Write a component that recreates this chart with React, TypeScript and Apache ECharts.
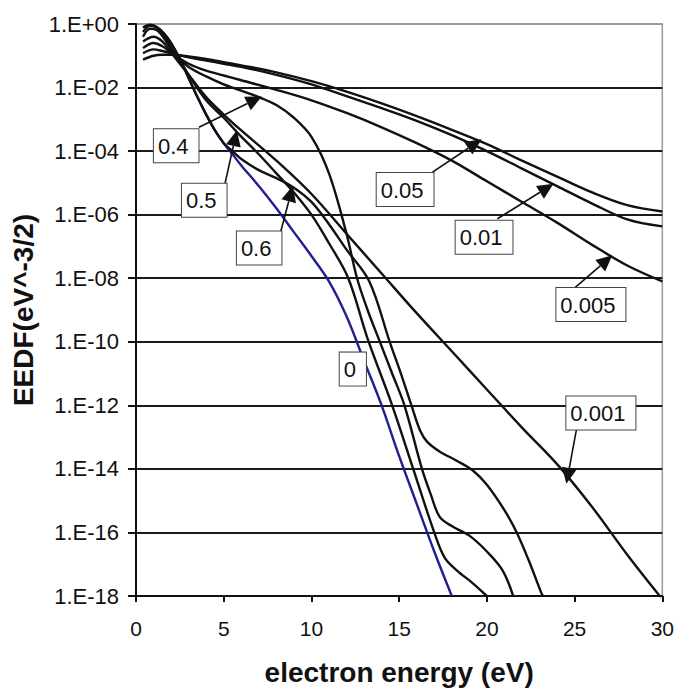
import React, { useEffect, useRef } from "react";
import * as echarts from "echarts";

// electron energy (eV) and log10(EEDF)
const e0 = [0.4, 0.8, 1.2, 1.6, 2, 2.5, 3, 3.5, 4, 4.5, 5, 5.5, 6, 7, 8, 9, 10, 11, 12, 13, 14, 15, 16, 17, 18];
const lg0 = [-0.1, -0.02, -0.1, -0.3, -0.6, -1.1, -1.7, -2.3, -2.85, -3.35, -3.75, -4.1, -4.45, -5.1, -5.8, -6.55, -7.3, -8.1, -9.2, -10.6, -12.0, -13.6, -15.1, -16.6, -18];

const e0001 = [0.4, 1, 1.5, 2, 3, 4, 5, 6, 8, 10, 12, 14, 16, 18, 20, 22, 24, 26, 28, 30];
const lg0001 = [-0.55, -0.4, -0.55, -0.9, -1.6, -2.3, -2.85, -3.35, -4.3, -5.35, -6.6, -7.85, -9.1, -10.3, -11.5, -12.7, -13.85, -15.2, -16.7, -18.1];

const e0005 = [0.4, 1, 1.5, 2, 3, 4, 5, 6, 8, 10, 12, 14, 16, 18, 20, 22, 24, 26, 28, 30];
const lg0005 = [-0.76, -0.6, -0.7, -0.9, -1.25, -1.47, -1.62, -1.77, -2.07, -2.4, -2.8, -3.25, -3.75, -4.3, -4.95, -5.6, -6.25, -6.95, -7.6, -8.1];

const e001 = [0.4, 1, 1.5, 2, 3, 4, 5, 6, 8, 10, 12, 14, 16, 18, 20, 22, 24, 26, 28, 30];
const lg001 = [-0.92, -0.8, -0.85, -0.92, -1.05, -1.15, -1.25, -1.35, -1.6, -1.9, -2.27, -2.65, -3.05, -3.5, -4.0, -4.55, -5.1, -5.65, -6.15, -6.37];

const e005 = [0.4, 1, 1.5, 2, 3, 4, 5, 6, 8, 10, 12, 14, 16, 18, 20, 22, 24, 26, 28, 30];
const lg005 = [-1.12, -1.0, -0.97, -0.97, -1.02, -1.1, -1.2, -1.3, -1.52, -1.8, -2.13, -2.5, -2.9, -3.33, -3.78, -4.3, -4.8, -5.3, -5.7, -5.9];

const e04 = [0.4, 0.8, 1.2, 1.6, 2, 2.5, 3, 4, 5, 6, 7, 8, 9, 10, 11, 12, 12.6, 13.2, 13.9, 14.6, 15.3, 16.3, 16.8, 17.3, 18, 19, 20, 20.9, 21.5];
const lg04 = [-0.4, -0.15, -0.2, -0.45, -0.8, -1.1, -1.35, -1.65, -1.9, -2.1, -2.3, -2.55, -2.95, -3.55, -4.7, -6.6, -8.0, -9.0, -10.0, -11.0, -12.0, -14.0, -14.8, -15.5, -15.8, -16.1, -16.6, -17.2, -18];

const e05 = [0.4, 0.8, 1.2, 1.6, 2, 2.5, 3, 4, 5, 5.75, 7, 8, 9, 10, 11, 12.1, 13.2, 14.6, 15.8, 17.0, 17.6, 18.3, 19.2, 20];
const lg05 = [-0.25, -0.06, -0.12, -0.35, -0.75, -1.15, -1.6, -2.4, -2.95, -3.4, -4.1, -4.7, -5.3, -6.0, -6.9, -8.0, -9.9, -12.0, -14.0, -16.0, -16.8, -17.2, -17.6, -18];

const e06 = [0.4, 0.8, 1.2, 1.6, 2, 2.5, 3, 3.5, 4, 4.5, 5, 5.5, 6, 7, 8, 9, 10, 11, 12, 13.3, 14.46, 15.1, 15.7, 16.2, 16.6, 17.3, 18.3, 19.2, 20, 21, 21.7, 22.4, 23.1, 23.2];
const lg06 = [-0.12, -0.03, -0.1, -0.3, -0.6, -1.1, -1.7, -2.3, -2.85, -3.35, -3.75, -4.0, -4.25, -4.6, -4.85, -5.15, -5.6, -6.3, -7.1, -8.1, -10.0, -11.0, -12.0, -12.8, -13.15, -13.45, -13.75, -14.05, -14.5, -15.3, -16.0, -16.9, -17.9, -18];

const xTicks = [0, 5, 10, 15, 20, 25, 30];

// label boxes: text, top-left corner (energy, log10 EEDF), arrow start and tip
const labelTexts = ["0.4", "0.5", "0.6", "0.05", "0.01", "0.005", "0", "0.001"];
const labelBoxE = [1.02, 2.62, 5.75, 13.72, 18.22, 23.96, 11.61, 24.53];
const labelBoxLg = [-3.31, -5.03, -6.53, -4.69, -6.19, -8.31, -10.34, -11.72];
const arrowFromE = [3.59, 5.07, 8.25, 16.9, 20.6, 24.99, null, 25.1];
const arrowFromLg = [-3.25, -5.03, -6.53, -4.66, -6.13, -8.31, null, -12.78];
const arrowToE = [7.17, 5.75, 8.94, 19.7, 23.8, 27.15, null, 24.53];
const arrowToLg = [-2.28, -3.34, -5.09, -3.63, -5.03, -7.28, null, -14.47];

const pts = (e: number[], lg: number[]) => e.map((x, i) => [x, Math.pow(10, lg[i])]);

export default function App() {
  const ref = useRef<HTMLDivElement>(null);
  useEffect(() => {
    if (!ref.current) return;
    document.body.style.margin = "0";
    const chart = echarts.init(ref.current, undefined, { renderer: "svg" });
    const line = (name: string, e: number[], lg: number[], color: string) => ({
      name,
      type: "line",
      data: pts(e, lg),
      showSymbol: false,
      smooth: 0.35,
      lineStyle: { color, width: 2.4 },
      z: 3,
    });
    const splitColors = ["#1a1a1a", "#1a1a1a", "#1a1a1a", "#1a1a1a", "#1a1a1a", "#1a1a1a", "#1a1a1a", "#1a1a1a", "#1a1a1a", "#9a9a9a"];
    const option: any = {
      animation: false,
      grid: { left: 136, right: 14, top: 24, bottom: 91, show: true, borderColor: "#9a9a9a", borderWidth: 1.5, backgroundColor: "#fff" },
      xAxis: {
        type: "value",
        min: 0,
        max: 30,
        interval: 5,
        name: "electron energy (eV)",
        nameLocation: "middle",
        nameGap: 62,
        nameTextStyle: { fontFamily: "Arial, Liberation Sans", fontWeight: "bold", fontSize: 28, color: "#111" },
        axisLine: { lineStyle: { color: "#111", width: 2 } },
        axisTick: { show: true, length: 6, lineStyle: { color: "#111", width: 2 } },
        axisLabel: { fontFamily: "Arial, Liberation Sans", fontSize: 21, color: "#111", margin: 22, formatter: (v: number) => (xTicks.includes(v) ? String(v) : "") },
        splitLine: { show: false },
      },
      yAxis: {
        type: "log",
        logBase: 10,
        min: 1e-18,
        max: 1,
        interval: 2,
        name: "EEDF(eV^-3/2)",
        nameLocation: "middle",
        nameGap: 96,
        nameTextStyle: { fontFamily: "Arial, Liberation Sans", fontWeight: "bold", fontSize: 28, color: "#111" },
        axisLine: { show: true, lineStyle: { color: "#111", width: 2 } },
        axisTick: { show: true, length: 8, lineStyle: { color: "#111", width: 2 } },
        axisLabel: {
          fontFamily: "Arial, Liberation Sans",
          fontSize: 22,
          color: "#111",
          margin: 17,
          formatter: (v: number) => {
            const ex = Math.round(Math.log10(v));
            return "1.E" + (ex >= 0 ? "+" : "-") + String(Math.abs(ex)).padStart(2, "0");
          },
        },
        splitLine: { show: true, lineStyle: { color: splitColors, width: 2 } },
      },
      series: [
        line("0", e0, lg0, "#1f1f8f"),
        line("0.05", e005, lg005, "#111"),
        line("0.01", e001, lg001, "#111"),
        line("0.005", e0005, lg0005, "#111"),
        line("0.001", e0001, lg0001, "#111"),
        line("0.4", e04, lg04, "#111"),
        line("0.5", e05, lg05, "#111"),
        line("0.6", e06, lg06, "#111"),
      ],
    };
    chart.setOption(option);
    const toPx = (e: number, lg: number) => chart.convertToPixel({ gridIndex: 0 } as any, [e, Math.pow(10, lg)]) as number[];
    const graphics: any[] = [];
    labelTexts.forEach((t, i) => {
      if (arrowFromE[i] !== null) {
        const s = toPx(arrowFromE[i] as number, arrowFromLg[i] as number);
        const tip = toPx(arrowToE[i] as number, arrowToLg[i] as number);
        const dx = tip[0] - s[0];
        const dy = tip[1] - s[1];
        const len = Math.sqrt(dx * dx + dy * dy);
        const ux = dx / len;
        const uy = dy / len;
        const headL = 16;
        const headW = 7.5;
        const bx = tip[0] - ux * headL;
        const by = tip[1] - uy * headL;
        graphics.push({
          type: "line",
          z: 90,
          shape: { x1: s[0], y1: s[1], x2: bx, y2: by },
          style: { stroke: "#111", lineWidth: 1.6 },
        });
        graphics.push({
          type: "polygon",
          z: 90,
          shape: {
            points: [
              [tip[0], tip[1]],
              [bx - uy * headW, by + ux * headW],
              [bx + uy * headW, by - ux * headW],
            ],
          },
          style: { fill: "#111" },
        });
      }
      const p = toPx(labelBoxE[i], labelBoxLg[i]);
      graphics.push({
        type: "text",
        x: p[0],
        y: p[1],
        z: 100,
        style: {
          text: t,
          font: "22px Arial, 'Liberation Sans'",
          fill: "#111",
          backgroundColor: "#fff",
          borderColor: "#444",
          borderWidth: 1,
          padding: [6, 10, 5, 4],
        },
      });
    });
    chart.setOption({ graphic: graphics });
    return () => chart.dispose();
  }, []);
  return <div ref={ref} style={{ position: "fixed", left: 0, top: 0, width: 677, height: 691, background: "#fff" }} />;
}
